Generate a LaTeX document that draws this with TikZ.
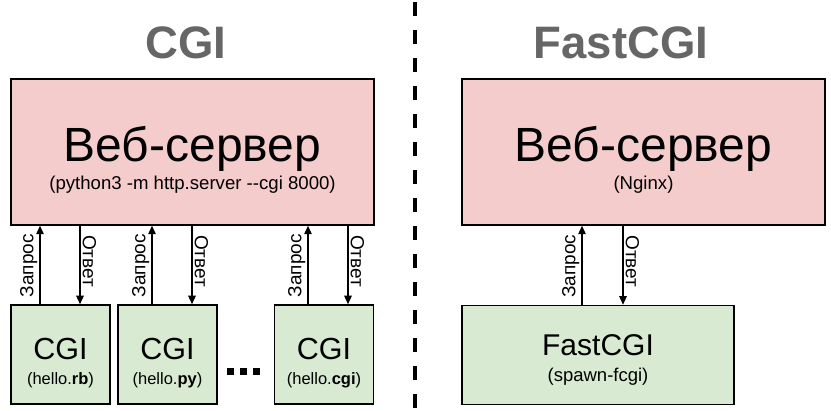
\documentclass[tikz,border=0pt]{standalone}
\usepackage{fontspec}
\setmainfont{Liberation Sans}
\usetikzlibrary{arrows.meta,positioning}

\definecolor{srvpink}{HTML}{F4CCCC}
\definecolor{workgreen}{HTML}{D9EAD3}
\definecolor{headgray}{HTML}{666666}

\begin{document}
\begin{tikzpicture}[
    x=1pt, y=1pt,
    server/.style={draw,line width=1.5pt,fill=srvpink,minimum width=363pt,
        minimum height=146pt,inner sep=0pt,align=center,
        font=\fontsize{18.6}{28}\selectfont},
    worker/.style={draw,line width=1.5pt,fill=workgreen,minimum height=99pt,
        inner sep=0pt,align=center,font=\fontsize{16.5}{25}\selectfont},
    heading/.style={font=\fontsize{45.5}{46}\selectfont\bfseries,text=headgray},
    flow/.style={-{Triangle[length=8.5pt,width=7.5pt]},line width=1.3pt},
    flowlabel/.style={font=\fontsize{19}{19}\selectfont,sloped,above,inner sep=2pt},
]
\useasboundingbox (0,0) rectangle (831,-411);

%----------------------------------
% CGI
%----------------------------------

\node[heading] (cgiTitle) at (186,-43) {CGI};

\node[server] (srvL) at (192.5,-152)
    {{\fontsize{48}{48}\selectfont\rule{0pt}{51pt}Веб-сервер}\\(python3 -m http.server -{}-cgi 8000)};

\node[worker,minimum width=99pt] (cgiA) at (60.5,-354.5)
    {{\fontsize{30.5}{30}\selectfont\rule{0pt}{39pt}CGI}\\(hello.\textbf{rb})};
\node[worker,minimum width=99pt,right=6.5pt of cgiA] (cgiB)
    {{\fontsize{30.5}{30}\selectfont\rule{0pt}{39pt}CGI}\\(hello.\textbf{py})};
\node[worker,minimum width=99pt] (cgiC) at (324,-354.5)
    {{\fontsize{30.5}{30}\selectfont\rule{0pt}{39pt}CGI}\\(hello.\textbf{cgi})};

\fill (227,-368) rectangle ++(7,-7);
\fill (240,-368) rectangle ++(7,-7);
\fill (253,-368) rectangle ++(7,-7);

\draw[flow] ([xshift=-20.5pt]cgiA.north) -- ([xshift=-20.5pt]cgiA.north |- srvL.south)
    node[flowlabel,pos=0.49] {Запрос};
\draw[flow] ([xshift=19.5pt]cgiA.north |- srvL.south) -- ([xshift=19.5pt]cgiA.north)
    node[flowlabel,pos=0.45] {Ответ};

\draw[flow] ([xshift=-15.5pt]cgiB.north) -- ([xshift=-15.5pt]cgiB.north |- srvL.south)
    node[flowlabel,pos=0.49] {Запрос};
\draw[flow] ([xshift=24.5pt]cgiB.north |- srvL.south) -- ([xshift=24.5pt]cgiB.north)
    node[flowlabel,pos=0.45] {Ответ};

\draw[flow] ([xshift=-16pt]cgiC.north) -- ([xshift=-16pt]cgiC.north |- srvL.south)
    node[flowlabel,pos=0.49] {Запрос};
\draw[flow] ([xshift=24pt]cgiC.north |- srvL.south) -- ([xshift=24pt]cgiC.north)
    node[flowlabel,pos=0.45] {Ответ};

%----------------------------------
% separator
%----------------------------------

\coordinate (sepTop) at (415,-2);
\coordinate (sepBot) at (415,-411);
\draw[line width=3.8pt,dash pattern=on 14pt off 14pt] (sepTop) -- (sepBot);

%----------------------------------
% FastCGI
%----------------------------------

\node[heading] (fcgiTitle) at (621,-43) {FastCGI};

\node[server] (srvR) at (643.5,-152)
    {{\fontsize{48}{48}\selectfont\rule{0pt}{51pt}Веб-сервер}\\(Nginx)};

\node[worker,minimum width=272pt,font=\fontsize{18.5}{26}\selectfont] (fcgi) at (598,-355)
    {{\fontsize{30}{30}\selectfont\rule{0pt}{31pt}FastCGI}\\(spawn-fcgi)};

\draw[flow] ([xshift=-16pt]fcgi.north) -- ([xshift=-16pt]fcgi.north |- srvR.south)
    node[flowlabel,pos=0.49] {Запрос};
\draw[flow] ([xshift=25pt]fcgi.north |- srvR.south) -- ([xshift=25pt]fcgi.north)
    node[flowlabel,pos=0.45] {Ответ};

\end{tikzpicture}
\end{document}
